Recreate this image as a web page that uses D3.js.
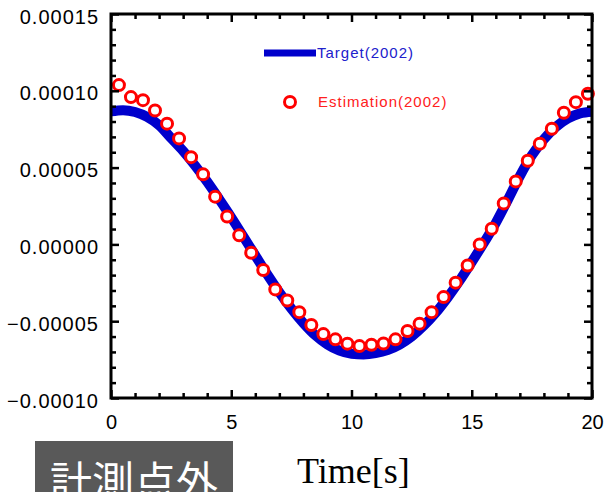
<!DOCTYPE html>
<html>
<head>
<meta charset="utf-8">
<script src="https://cdn.jsdelivr.net/npm/d3@7"></script>
<style>
  body { margin: 0; background: #fff; }
  svg { display: block; }
  .tick text { font-family: "Liberation Sans", Arial, sans-serif; font-size: 20px; fill: #000; }
</style>
</head>
<body>
<div id="chart"></div>
<script>
// target curve, sampled every 0.5 s
var targetTime = [0, 0.5, 1, 1.5, 2, 2.5, 3, 3.5, 4, 4.5, 5, 5.5, 6, 6.5, 7, 7.5, 8, 8.5, 9, 9.5,
    10, 10.5, 11, 11.5, 12, 12.5, 13, 13.5, 14, 14.5, 15, 15.5, 16, 16.5, 17, 17.5, 18, 18.5, 19, 19.5, 20];
var targetValue = [0.0000866, 0.0000874, 0.0000862, 0.0000830, 0.0000776, 0.0000692, 0.0000608, 0.0000512,
    0.0000408, 0.0000294, 0.0000176, 0.0000052, -0.0000072, -0.0000196, -0.0000312, -0.0000418,
    -0.0000512, -0.0000592, -0.0000652, -0.0000692, -0.0000712, -0.0000716, -0.0000708, -0.0000688,
    -0.0000652, -0.0000600, -0.0000530, -0.0000445, -0.0000345, -0.0000235, -0.0000115, 0.0000010,
    0.0000140, 0.0000290, 0.0000445, 0.0000580, 0.0000685, 0.0000765, 0.0000820, 0.0000853, 0.0000864];

// estimation points
var estTime = [0.33, 0.83, 1.33, 1.83, 2.33, 2.83, 3.33, 3.83, 4.33, 4.83, 5.33, 5.83, 6.33, 6.83, 7.33,
    7.83, 8.33, 8.83, 9.33, 9.83, 10.33, 10.83, 11.33, 11.83, 12.33, 12.83, 13.33, 13.83, 14.33, 14.83,
    15.33, 15.83, 16.33, 16.83, 17.33, 17.83, 18.33, 18.83, 19.33, 19.83];
var estValue = [0.0001037, 0.0000959, 0.0000939, 0.0000872, 0.0000786, 0.0000690, 0.0000568, 0.0000456,
    0.0000311, 0.0000182, 0.0000059, -0.0000054, -0.0000167, -0.0000293, -0.0000365, -0.0000441,
    -0.0000525, -0.0000584, -0.0000618, -0.0000646, -0.0000662, -0.0000653, -0.0000645, -0.0000618,
    -0.0000564, -0.0000516, -0.0000441, -0.0000343, -0.0000249, -0.0000137, 0.0000000, 0.0000102,
    0.0000267, 0.0000410, 0.0000545, 0.0000656, 0.0000753, 0.0000857, 0.0000926, 0.0000981];

var xMajor = [0, 5, 10, 15, 20];
var xMinor = [1, 2, 3, 4, 6, 7, 8, 9, 11, 12, 13, 14, 16, 17, 18, 19];
var yMajor = [-0.0001, -0.00005, 0, 0.00005, 0.0001, 0.00015];
var yMinor = [-0.00009, -0.00008, -0.00007, -0.00006, -0.00004, -0.00003, -0.00002, -0.00001,
    0.00001, 0.00002, 0.00003, 0.00004, 0.00006, 0.00007, 0.00008, 0.00009,
    0.00011, 0.00012, 0.00013, 0.00014];

var seriesNames = ['Target(2002)', 'Estimation(2002)'];
var boxLabel = '計測点外';
var xTitle = 'Time[s]';

(function(){
    var W = 606, H = 492;
    var pl = 111, pr = 592, pt = 14, pb = 398;

    var svg = d3.select('#chart').append('svg')
        .attr('width', W).attr('height', H);

    svg.append('rect').attr('width', W).attr('height', H).attr('fill', '#fff');

    var x = d3.scaleLinear().domain([0, 20]).range([pl, pr]);
    var y = d3.scaleLinear().domain([-0.0001, 0.00015]).range([pb, pt]);
    var fmt = d3.format('.5f');

    // target line
    var target = targetTime.map((t, i) => [t, targetValue[i]]);
    svg.append('path')
        .datum(target)
        .attr('fill', 'none')
        .attr('stroke', '#0000cc')
        .attr('stroke-width', 10)
        .attr('d', d3.line().x(d => x(d[0])).y(d => y(d[1])).curve(d3.curveMonotoneX));

    // estimation circles
    var est = estTime.map((t, i) => [t, estValue[i]]);
    svg.append('g').selectAll('circle')
        .data(est).enter()
        .append('circle')
        .attr('cx', d => x(d[0]))
        .attr('cy', d => y(d[1]))
        .attr('r', 5.5)
        .attr('fill', '#fff')
        .attr('stroke', '#ff0000')
        .attr('stroke-width', 3);

    // axes, ticks inside
    function addAxis(axis, tx, ty) {
        var g = svg.append('g').attr('transform', 'translate(' + tx + ',' + ty + ')').call(axis);
        g.select('.domain').remove();
        g.selectAll('.tick line').attr('stroke', '#000').attr('stroke-width', 2.5);
        return g;
    }
    var yl = addAxis(d3.axisLeft(y).tickValues(yMajor).tickSize(-8).tickPadding(12).tickFormat(fmt), pl, 0);
    yl.selectAll('.tick text').attr('dy', '0.45em').style('letter-spacing', '1px');
    addAxis(d3.axisLeft(y).tickValues(yMinor).tickSize(-5).tickFormat(''), pl, 0);
    addAxis(d3.axisRight(y).tickValues(yMajor).tickSize(-8).tickFormat(''), pr, 0);
    addAxis(d3.axisRight(y).tickValues(yMinor).tickSize(-5).tickFormat(''), pr, 0);
    addAxis(d3.axisBottom(x).tickValues(xMajor).tickSize(-8).tickPadding(17).tickFormat(d3.format('d')), 0, pb);
    addAxis(d3.axisBottom(x).tickValues(xMinor).tickSize(-5).tickFormat(''), 0, pb);
    addAxis(d3.axisTop(x).tickValues(xMajor).tickSize(-8).tickFormat(''), 0, pt);
    addAxis(d3.axisTop(x).tickValues(xMinor).tickSize(-5).tickFormat(''), 0, pt);

    // frame
    svg.append('rect')
        .attr('x', pl).attr('y', pt)
        .attr('width', pr - pl).attr('height', pb - pt)
        .attr('fill', 'none').attr('stroke', '#000').attr('stroke-width', 3);

    // legend
    var lg = svg.append('g')
        .style('font-family', '"Liberation Sans", Arial, sans-serif')
        .style('font-size', '15px')
        .style('letter-spacing', '1px');
    lg.append('line').attr('x1', 264).attr('x2', 316).attr('y1', 53).attr('y2', 53)
        .attr('stroke', '#0000cc').attr('stroke-width', 7);
    lg.append('text').attr('x', 317).attr('y', 53).attr('dy', '0.35em').attr('fill', '#2020cc').text(seriesNames[0]);
    lg.append('circle').attr('cx', 290).attr('cy', 102).attr('r', 5.5)
        .attr('fill', '#fff').attr('stroke', '#ff0000').attr('stroke-width', 3);
    lg.append('text').attr('x', 318).attr('y', 102).attr('dy', '0.35em').attr('fill', '#ff2020').text(seriesNames[1]);

    // x title
    svg.append('text')
        .attr('x', 297).attr('y', 483)
        .style('font-family', '"Liberation Serif", "Times New Roman", serif')
        .style('font-size', '36px')
        .text(xTitle);

    // grey label box (text runs off the bottom edge, as in the original)
    svg.append('rect').attr('x', 35).attr('y', 441).attr('width', 198).attr('height', 60).attr('fill', '#595959');
    svg.append('text')
        .attr('x', 134).attr('y', 497)
        .attr('text-anchor', 'middle')
        .attr('fill', '#fff')
        .style('font-family', '"Noto Sans CJK JP", sans-serif')
        .style('font-size', '42px')
        .text(boxLabel);
})();
</script>
</body>
</html>
